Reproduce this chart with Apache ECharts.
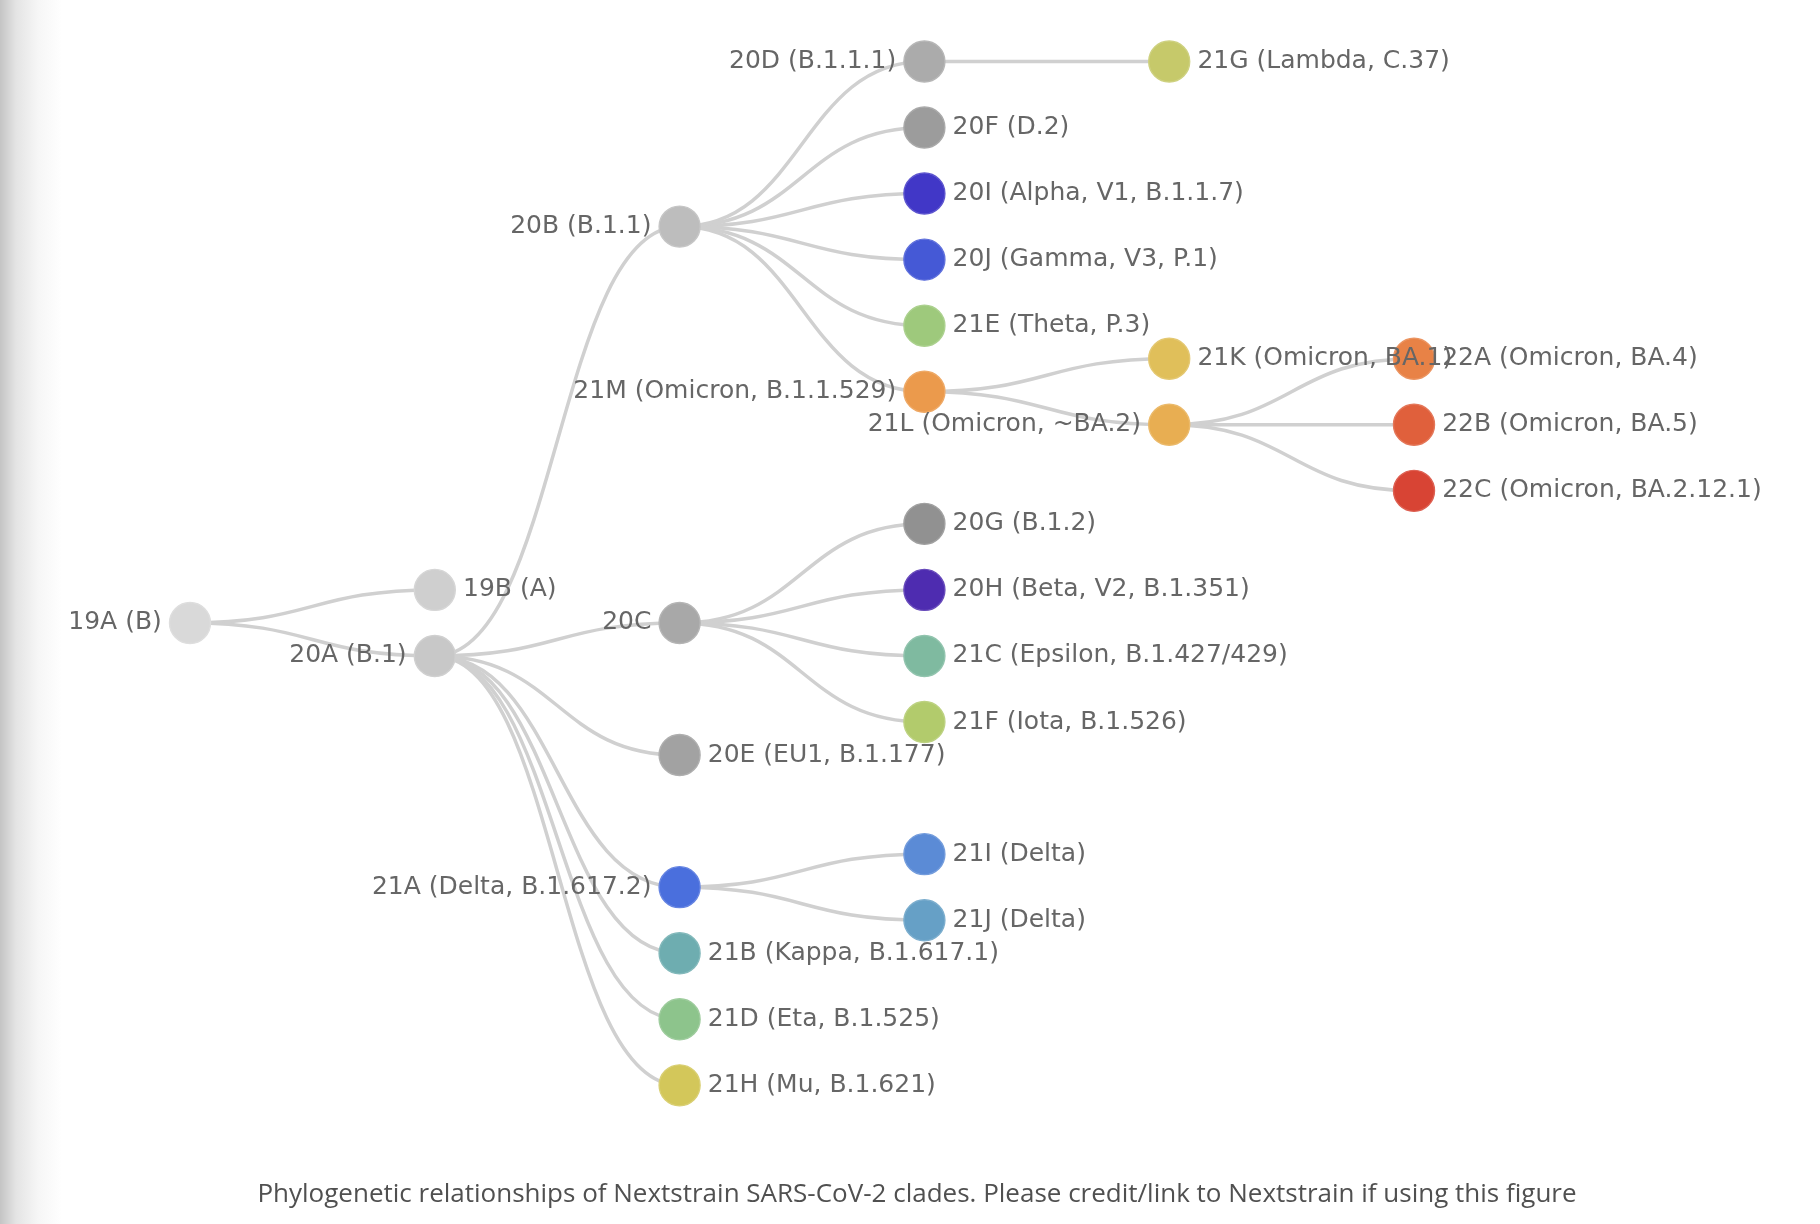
<!DOCTYPE html>
<html><head><meta charset="utf-8">
<script src="https://cdn.jsdelivr.net/npm/echarts@6/dist/echarts.min.js"></script>
<style>
html,body{margin:0;padding:0;background:#fff;}
#bg{position:absolute;left:0;top:0;width:70px;height:1224px;background:linear-gradient(to right,#c4c4c4 0px,#e4e4e4 16px,#f6f6f6 38px,#ffffff 62px);}
#main{position:absolute;left:0;top:0;width:1820px;height:1224px;}
</style></head>
<body><div id="bg"></div><div id="main"></div>
<script>
// Clade names in pre-order, with their parent and colour
const cladeNames = [
  '19A (B)', '19B (A)', '20A (B.1)', '20B (B.1.1)', '20D (B.1.1.1)', '21G (Lambda, C.37)',
  '20F (D.2)', '20I (Alpha, V1, B.1.1.7)', '20J (Gamma, V3, P.1)', '21E (Theta, P.3)',
  '21M (Omicron, B.1.1.529)', '21K (Omicron, BA.1)', '21L (Omicron, ~BA.2)',
  '22A (Omicron, BA.4)', '22B (Omicron, BA.5)', '22C (Omicron, BA.2.12.1)',
  '20C', '20G (B.1.2)', '20H (Beta, V2, B.1.351)', '21C (Epsilon, B.1.427/429)', '21F (Iota, B.1.526)',
  '20E (EU1, B.1.177)', '21A (Delta, B.1.617.2)', '21I (Delta)', '21J (Delta)',
  '21B (Kappa, B.1.617.1)', '21D (Eta, B.1.525)', '21H (Mu, B.1.621)'
];
const cladeParents = [
  null, '19A (B)', '19A (B)', '20A (B.1)', '20B (B.1.1)', '20D (B.1.1.1)',
  '20B (B.1.1)', '20B (B.1.1)', '20B (B.1.1)', '20B (B.1.1)',
  '20B (B.1.1)', '21M (Omicron, B.1.1.529)', '21M (Omicron, B.1.1.529)',
  '21L (Omicron, ~BA.2)', '21L (Omicron, ~BA.2)', '21L (Omicron, ~BA.2)',
  '20A (B.1)', '20C', '20C', '20C', '20C',
  '20A (B.1)', '20A (B.1)', '21A (Delta, B.1.617.2)', '21A (Delta, B.1.617.2)',
  '20A (B.1)', '20A (B.1)', '20A (B.1)'
];
const cladeColors = [
  '#d9d9d9', '#cfcfcf', '#c8c8c8', '#bdbdbd', '#ababab', '#c6c96a',
  '#9c9c9c', '#4137c7', '#4559d6', '#9ec97c',
  '#eb9a4c', '#e0bf5a', '#e8ae52',
  '#e88246', '#e0603c', '#d84434',
  '#a8a8a8', '#919191', '#4e2cb0', '#7fbaa0', '#b2cb6c',
  '#a2a2a2', '#4a6fdd', '#5b8bd6', '#66a0c6',
  '#6eadb0', '#8dc48c', '#d3c75a'
];
const captionText = 'Phylogenetic relationships of Nextstrain SARS-CoV-2 clades. Please credit/link to Nextstrain if using this figure';

// build nested tree
const nodeMap = {};
cladeNames.forEach(function (n, i) {
  const c = cladeColors[i];
  nodeMap[n] = {
    name: n,
    children: [],
    itemStyle: { color: c, borderColor: echarts.color.lift(c, 0.15), borderWidth: 1.4 }
  };
});
let rootNode = null;
cladeNames.forEach(function (n, i) {
  const p = cladeParents[i];
  if (p === null) rootNode = nodeMap[n];
  else nodeMap[p].children.push(nodeMap[n]);
});
cladeNames.forEach(function (n) {
  if (nodeMap[n].children.length === 0) delete nodeMap[n].children;
});

const chart = echarts.init(document.getElementById('main'), null, { renderer: 'canvas' });
chart.setOption({
  animation: false,
  backgroundColor: 'transparent',
  series: [{
    type: 'tree',
    data: [rootNode],
    orient: 'LR',
    left: 190,
    right: 406,
    top: -4.6,
    bottom: 72.6,
    initialTreeDepth: -1,
    expandAndCollapse: false,
    roam: false,
    symbol: 'circle',
    symbolSize: 41,
    edgeShape: 'curve',
    lineStyle: { color: '#d0d0d0', width: 3.5, curveness: 0.5 },
    label: {
      position: 'left',
      verticalAlign: 'middle',
      align: 'right',
      distance: 7,
      fontSize: 25,
      fontFamily: 'DejaVu Sans',
      color: '#666666'
    },
    leaves: {
      label: {
        position: 'right',
        verticalAlign: 'middle',
        align: 'left',
        distance: 7
      }
    },
    emphasis: { disabled: true }
  }],
  graphic: [{
    type: 'text',
    x: 917,
    y: 1195,
    style: {
      text: captionText,
      align: 'center',
      verticalAlign: 'middle',
      font: '26px "Open Sans"',
      fill: '#505050'
    }
  }]
});
</script>
</body></html>
